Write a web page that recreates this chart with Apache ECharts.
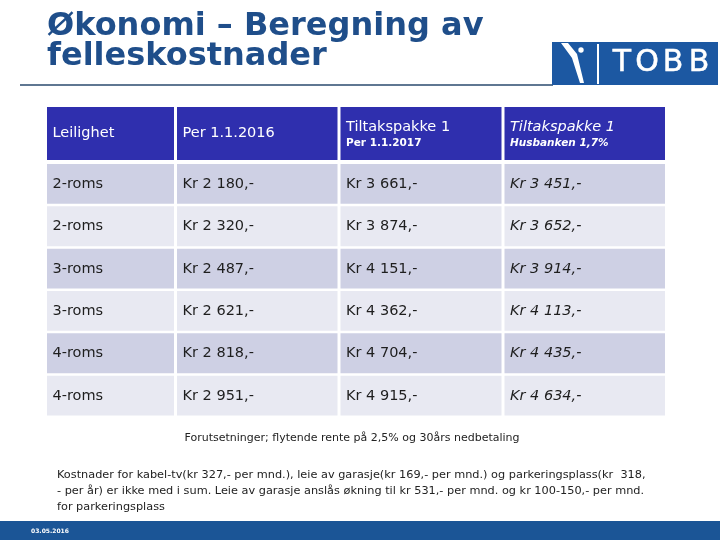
<!DOCTYPE html>
<html>
<head>
<meta charset="utf-8">
<script src="https://cdn.jsdelivr.net/npm/echarts@6/dist/echarts.min.js"></script>
<style>
html,body{margin:0;padding:0;background:#fff;}
#chart{width:720px;height:540px;}
</style>
</head>
<body>
<div id="chart"></div>
<script>
// ---- data ----
const rowLabels = ['2-roms', '2-roms', '3-roms', '3-roms', '4-roms', '4-roms'];
const per2016 = [2180, 2320, 2487, 2621, 2818, 2951];
const tiltak2017 = [3661, 3874, 4151, 4362, 4704, 4915];
const husbanken = [3451, 3652, 3914, 4113, 4435, 4634];
const headerMain = ['Leilighet', 'Per 1.1.2016', 'Tiltakspakke 1', 'Tiltakspakke 1'];
const headerSub = ['', '', 'Per 1.1.2017', 'Husbanken 1,7%'];
const titleLines = ['Økonomi – Beregning av', 'felleskostnader'];
const noteAssumption = 'Forutsetninger; flytende rente på 2,5% og 30års nedbetaling';
const noteLines = [
  'Kostnader for kabel-tv(kr 327,- per mnd.), leie av garasje(kr 169,- per mnd.) og parkeringsplass(kr  318,',
  '- per år) er ikke med i sum. Leie av garasje anslås økning til kr 531,- per mnd. og kr 100-150,- per mnd.',
  'for parkeringsplass'
];
const logoLetters = ['T', 'O', 'B', 'B'];
const footerDate = '03.05.2016';

// ---- layout (not data) ----
const colEdges = [0, 128.5, 292, 456, 618];
const TABLE_W = 618;
const FONT = '"DejaVu Sans", Verdana, sans-serif';
const PAD = 5.5;

function kr(v) {
  const s = String(v);
  return 'Kr ' + s.slice(0, s.length - 3) + ' ' + s.slice(-3) + ',-';
}

const bodyCells = [];
rowLabels.forEach((lab, r) => {
  bodyCells.push({ value: [0, r], text: lab, italic: false });
  bodyCells.push({ value: [1, r], text: kr(per2016[r]), italic: false });
  bodyCells.push({ value: [2, r], text: kr(tiltak2017[r]), italic: false });
  bodyCells.push({ value: [3, r], text: kr(husbanken[r]), italic: true });
});
const headCells = headerMain.map((t, c) => ({ value: [c, 0], text: t, sub: headerSub[c], italic: c === 3 }));

function cellRect(api, c, r) {
  const x0 = api.coord([colEdges[c], r])[0];
  const x1 = api.coord([colEdges[c + 1], r])[0];
  const yc = api.coord([0, r])[1];
  const bh = api.size([0, 1])[1];
  return { x0, x1, yc, bh };
}

function renderBody(params, api) {
  const c = api.value(0), r = api.value(1);
  const cell = bodyCells[params.dataIndex];
  const g = cellRect(api, c, r);
  const gapL = c === 0 ? 0 : 1.5, gapR = c === 3 ? 0 : 1.5;
  return {
    type: 'group',
    children: [
      {
        type: 'rect',
        shape: { x: g.x0 + gapL, y: g.yc - g.bh / 2 + 1, width: g.x1 - g.x0 - gapL - gapR, height: g.bh - 2.5 },
        style: { fill: r % 2 === 0 ? '#CED0E4' : '#E8E9F2' }
      },
      {
        type: 'text',
        x: g.x0 + gapL + PAD, y: g.yc,
        style: {
          text: cell.text, fill: '#1e1e1e',
          font: (cell.italic ? 'italic ' : '') + '14.5px ' + FONT,
          verticalAlign: 'middle', align: 'left'
        }
      }
    ]
  };
}

function renderHead(params, api) {
  const c = api.value(0), r = api.value(1);
  const cell = headCells[params.dataIndex];
  const g = cellRect(api, c, r);
  const gapL = c === 0 ? 0 : 1.5, gapR = c === 3 ? 0 : 1.5;
  const children = [
    {
      type: 'rect',
      shape: { x: g.x0 + gapL, y: g.yc - g.bh / 2, width: g.x1 - g.x0 - gapL - gapR, height: g.bh },
      style: { fill: '#2F2FAE' }
    }
  ];
  if (cell.sub) {
    children.push({
      type: 'text', x: g.x0 + gapL + PAD, y: g.yc - 6,
      style: { text: cell.text, fill: '#fff', font: (cell.italic ? 'italic ' : '') + '14.5px ' + FONT, verticalAlign: 'middle' }
    });
    children.push({
      type: 'text', x: g.x0 + gapL + PAD, y: g.yc + 10,
      style: { text: cell.sub, fill: '#fff', font: (cell.italic ? 'italic ' : '') + 'bold 10.5px ' + FONT, verticalAlign: 'middle' }
    });
  } else {
    children.push({
      type: 'text', x: g.x0 + gapL + PAD, y: g.yc,
      style: { text: cell.text, fill: '#fff', font: '14.5px ' + FONT, verticalAlign: 'middle' }
    });
  }
  return { type: 'group', children };
}

const logoX = [622, 647, 673, 699];
const logoText = logoLetters.map((ch, i) => ({
  type: 'text', x: logoX[i], y: 63,
  style: {
    text: ch, fill: '#fff', stroke: '#fff', lineWidth: 0.5,
    font: '30px "DejaVu Sans", sans-serif', align: 'center', verticalAlign: 'middle'
  }
}));

const chart = echarts.init(document.getElementById('chart'), null, { renderer: 'canvas' });
const option = {
  backgroundColor: '#ffffff',
  animation: false,
  grid: [
    { left: 47, top: 107, width: TABLE_W, height: 53 },
    { left: 47, top: 163, width: TABLE_W, height: 254 }
  ],
  xAxis: [
    { gridIndex: 0, type: 'value', min: 0, max: TABLE_W, show: false },
    { gridIndex: 1, type: 'value', min: 0, max: TABLE_W, show: false }
  ],
  yAxis: [
    { gridIndex: 0, type: 'category', data: ['header'], inverse: true, show: false },
    { gridIndex: 1, type: 'category', data: rowLabels.map((l, i) => i), inverse: true, show: false }
  ],
  series: [
    { type: 'custom', xAxisIndex: 0, yAxisIndex: 0, renderItem: renderHead, data: headCells.map(d => d.value), silent: true },
    { type: 'custom', xAxisIndex: 1, yAxisIndex: 1, renderItem: renderBody, data: bodyCells.map(d => d.value), silent: true }
  ],
  graphic: [
    { type: 'text', left: 47, top: 11, style: { text: titleLines[0], fill: '#1F4E8A', font: 'bold 32px ' + FONT } },
    { type: 'text', left: 47, top: 41, style: { text: titleLines[1], fill: '#1F4E8A', font: 'bold 32px ' + FONT } },
    { type: 'line', shape: { x1: 20, y1: 85, x2: 553, y2: 85 }, style: { stroke: '#2A4A6E', lineWidth: 1.5 } },
    // logo
    { type: 'rect', shape: { x: 552, y: 42, width: 166, height: 43 }, style: { fill: '#1C58A2' } },
    { type: 'polygon', shape: { points: [[561, 43], [568, 43], [577, 54], [584, 83], [580, 83], [572, 58]] }, style: { fill: '#ffffff' } },
    { type: 'circle', shape: { cx: 581, cy: 50, r: 2.7 }, style: { fill: '#ffffff' } },
    { type: 'rect', shape: { x: 597, y: 44, width: 2, height: 40 }, style: { fill: '#ffffff' } },
    ...logoText,
    // notes
    { type: 'text', x: 352, y: 438, style: { text: noteAssumption, fill: '#222', font: '11px ' + FONT, align: 'center', verticalAlign: 'middle' } },
    { type: 'text', x: 57, y: 475, style: { text: noteLines[0], fill: '#222', font: '11.3px ' + FONT, verticalAlign: 'middle' } },
    { type: 'text', x: 57, y: 491, style: { text: noteLines[1], fill: '#222', font: '11.3px ' + FONT, verticalAlign: 'middle' } },
    { type: 'text', x: 57, y: 507, style: { text: noteLines[2], fill: '#222', font: '11.3px ' + FONT, verticalAlign: 'middle' } },
    // footer
    { type: 'rect', shape: { x: 0, y: 521, width: 720, height: 19 }, style: { fill: '#1B5596' } },
    { type: 'text', x: 31, y: 531, style: { text: footerDate, fill: '#fff', font: 'bold 6px ' + FONT, verticalAlign: 'middle' } }
  ]
};
chart.setOption(option);
</script>
</body>
</html>
